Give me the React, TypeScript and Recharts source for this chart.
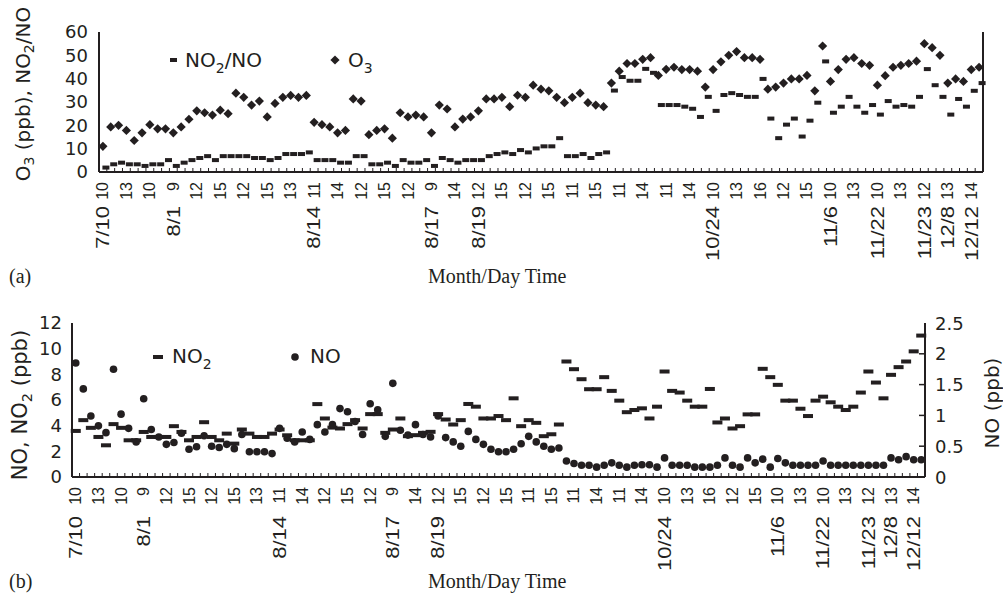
import React from 'react';
import { ComposedChart, Line, XAxis, YAxis, Legend, Label } from 'recharts';

const INK = '#231f20';
const SANS = '"DejaVu Sans", Arial, sans-serif';
const TICK_FONT = '"Liberation Sans", Arial, sans-serif';
const SERIF = '"Liberation Serif", "Times New Roman", serif';

// x labels: one every third sample (hour), with the date under the first hour of a day
const timeLabels = ['10', '13', '10', '9', '12', '15', '12', '15', '13', '11', '14', '12', '15', '12', '9', '14', '12', '15', '12',
  '15', '11', '15', '11', '14', '11', '14', '10', '13', '16', '12', '15', '10', '13', '10', '13', '12', '13', '14'];
const dateLabels = ['7/10', '', '', '8/1', '', '', '', '', '', '8/14', '', '', '', '', '8/17', '', '8/19', '', '',
  '', '', '', '', '', '', '', '10/24', '', '', '', '', '11/6', '', '11/22', '', '11/23', '12/8', '12/12'];

// panel (a)
const o3 = [11, 19.3, 20, 17.8, 13.5, 16.8, 20.3, 18.5, 18.5, 16.8,
  19.3, 22.6, 26.2, 25.4, 24.4, 26.5, 25, 33.8, 32, 28.7,
  30.4, 23.6, 29.4, 32, 32.8, 32, 32.8, 21.3, 20.3, 19.3,
  16.8, 17.8, 31.3, 30.4, 16, 17.8, 18.5, 14.5, 25.4, 23.6,
  24.4, 23.6, 16.8, 28.7, 27, 19.3, 22.7, 23.6, 26.2, 31.3,
  31.3, 32, 28, 32.9, 32, 37.2, 35.5, 34.8, 32, 29.7,
  32, 33.8, 29.7, 28.7, 28, 38.1, 43.2, 46.5, 46.5, 48.3,
  49, 41.4, 44, 44.9, 43.9, 43.9, 43.2, 36.4, 43.9, 47.2,
  50, 51.6, 49, 49, 48.3, 35.5, 36.4, 38.1, 39.9, 39.9,
  41.4, 34.8, 54, 38.8, 43.9, 48.3, 49, 46.5, 45.7, 37.2,
  41.3, 44.9, 45.7, 46.5, 47.5, 55, 53.3, 50, 38.1, 39.9,
  38.8, 43.9, 44.9];
const no2PerNo = [1.9, 3.3, 4, 3.3, 3.3, 2.6, 3.3, 3.3, 5.1, 2.6,
  4, 5.1, 6, 6.8, 5.1, 6.8, 6.8, 6.8, 6.8, 6,
  6, 5.1, 6, 7.7, 7.7, 7.7, 8.4, 5.1, 5.1, 5.1,
  4, 4, 6.8, 6.8, 3.3, 3.3, 4, 2.6, 5.1, 4,
  4, 5.1, 2.6, 6, 5.1, 4, 5.1, 5.1, 5.1, 6.8,
  7.7, 8.4, 7.7, 9.4, 8.4, 10.1, 11, 11, 14.5, 6.8,
  6.8, 7.7, 6, 7.7, 8.4, 34.9, 40.7, 39.1, 39.1, 44.2,
  42.5, 28.7, 28.7, 28.7, 28, 27.1, 23.6, 32.2, 26.2, 33,
  33.8, 33, 32.2, 32.2, 39.9, 22.9, 14.5, 20.3, 22.9, 15.2,
  22, 29.7, 47.4, 25.4, 28, 32.2, 28, 25.4, 28.7, 24.6,
  30.4, 28, 28.7, 28, 32.2, 44.1, 37.2, 32.2, 24.6, 31.3,
  28, 34.8, 38.1];

// panel (b)
const no2 = [3.59, 4.43, 3.83, 3.12, 2.47, 4.12, 3.83, 2.86, 2.86, 3.51,
  3.12, 3.12, 3.12, 3.96, 3.51, 2.86, 3.12, 4.27, 3.12, 2.86,
  3.38, 2.6, 3.7, 3.38, 3.12, 3.12, 3.38, 3.7, 3.25, 2.86,
  2.86, 2.86, 5.68, 4.56, 3.85, 3.78, 4.12, 4.43, 3.78, 4.9,
  4.9, 3.44, 3.7, 4.56, 3.18, 3.26, 3.44, 3.52, 4.9, 4.48,
  4.09, 4.43, 5.69, 5.48, 4.56, 4.56, 4.75, 4.43, 6.13, 3.96,
  4.43, 4.22, 3.18, 3.33, 4.09, 9.0, 8.4, 7.62, 6.84, 6.84,
  7.78, 6.71, 5.95, 5.05, 5.22, 5.35, 4.56, 5.48, 8.22, 6.71,
  6.58, 5.95, 5.48, 5.48, 6.86, 4.25, 4.56, 3.78, 3.96, 4.88,
  4.88, 8.43, 7.78, 7.18, 5.95, 5.95, 5.32, 4.75, 5.95, 6.26,
  5.82, 5.48, 5.22, 5.48, 6.58, 8.22, 7.36, 6.13, 7.96, 8.56,
  9.0, 9.79, 11.02];
const no = [1.85, 1.43, 0.99, 0.83, 0.72, 1.75, 1.02, 0.79, 0.57, 1.27,
  0.77, 0.65, 0.53, 0.56, 0.71, 0.45, 0.49, 0.67, 0.5, 0.48,
  0.53, 0.46, 0.69, 0.41, 0.41, 0.41, 0.38, 0.79, 0.63, 0.57,
  0.73, 0.61, 0.85, 0.73, 0.85, 1.11, 1.06, 0.9, 0.69, 1.19,
  1.09, 0.66, 1.52, 0.76, 0.68, 0.85, 0.69, 0.65, 0.99, 0.64,
  0.57, 0.5, 0.74, 0.61, 0.53, 0.45, 0.41, 0.41, 0.45, 0.54,
  0.66, 0.57, 0.5, 0.45, 0.47, 0.26, 0.22, 0.19, 0.19, 0.16,
  0.19, 0.23, 0.19, 0.16, 0.19, 0.2, 0.2, 0.16, 0.31, 0.19,
  0.19, 0.19, 0.16, 0.16, 0.16, 0.19, 0.31, 0.19, 0.16, 0.31,
  0.23, 0.29, 0.16, 0.3, 0.23, 0.19, 0.19, 0.19, 0.19, 0.26,
  0.19, 0.19, 0.19, 0.19, 0.19, 0.19, 0.19, 0.19, 0.31, 0.28,
  0.33, 0.28, 0.28];

const N = o3.length;
const dataA = o3.map((v, i) => ({ k: i, o3: v, ratio: no2PerNo[i] }));
const dataB = no2.map((v, i) => ({ k: i, no2: v, no: no[i] }));

const W = 1003;
const A = { h: 290, top: 32, left: 99, right: 20, xh: 118, dateGap: 34 };
const B = { h: 305, top: 33, left: 72, right: 78, xh: 118, dateGap: 39 };
const stepA = (W - A.left - A.right) / N;
const stepB = (W - B.left - B.right) / N;

const line = { stroke: INK, strokeWidth: 2 };

function makeTick(step: number, dateGap: number) {
  return (props: any) => {
    const { x, y, payload } = props;
    const i = Number(payload.value);
    const parts: React.ReactNode[] = [
      <line key="m" x1={x - step / 2} x2={x - step / 2} y1={y} y2={y - 4} stroke={INK} strokeWidth={1} />,
    ];
    if (i === N - 1) {
      parts.push(<line key="e" x1={x + step / 2} x2={x + step / 2} y1={y} y2={y - 4} stroke={INK} strokeWidth={1} />);
    }
    if (i % 3 === 0) {
      const j = i / 3;
      parts.push(
        <text key="t" transform={`translate(${x},${y + 10}) rotate(-90)`} textAnchor="end" dominantBaseline="central"
          fontFamily={TICK_FONT} fontSize={16} fill={INK}>{timeLabels[j]}</text>
      );
      if (dateLabels[j]) {
        parts.push(
          <text key="d" transform={`translate(${x},${y + dateGap}) rotate(-90) scale(1.22,1)`} textAnchor="end"
            dominantBaseline="central" fontFamily={TICK_FONT} fontSize={18} fill={INK}>{dateLabels[j]}</text>
        );
      }
    }
    return <g>{parts}</g>;
  };
}

const rightTick = (p: any) => {
  const v = p.payload.value;
  return (
    <g>
      {v > 0 && v < 2.5 && <line x1={p.x - 10} x2={p.x - 16} y1={p.y} y2={p.y} stroke={INK} strokeWidth={1.5} />}
      <text x={p.x} y={p.y} dominantBaseline="central" fontFamily={SANS} fontSize={18} fill={INK}>{v}</text>
    </g>
  );
};

const dashDot = (w: number, h: number, dx = 0) => (p: any) => (
  <rect key={`r${p.index}`} x={p.cx - w / 2 + dx} y={p.cy - h / 2} width={w} height={h} fill={INK} />
);
const diamondDot = (p: any) => (
  <path key={`d${p.index}`} d={`M${p.cx},${p.cy - 4.6}L${p.cx + 4.6},${p.cy}L${p.cx},${p.cy + 4.6}L${p.cx - 4.6},${p.cy}Z`} fill={INK} />
);
const circleDot = (p: any) => <circle key={`c${p.index}`} cx={p.cx} cy={p.cy} r={3.8} fill={INK} />;

// rotated title with subscripts: segments alternate normal / subscript
const VTitle = ({ x, y, size, segs }: { x: number; y: number; size: number; segs: [string, boolean][] }) => {
  const shift = size * 0.3;
  let down = false;
  return (
    <text transform={`translate(${x},${y}) rotate(-90)`} textAnchor="middle" dominantBaseline="central"
      fontFamily={SANS} fontSize={size} fill={INK}>
      {segs.map(([s, sub], i) => {
        const dy = sub && !down ? shift : !sub && down ? -shift : 0;
        down = sub;
        return <tspan key={i} dy={dy} fontSize={sub ? size * 0.7 : size}>{s}</tspan>;
      })}
    </text>
  );
};

const Sub = ({ base, sub, rest, size }: { base: string; sub: string; rest?: string; size: number }) => (
  <>
    <tspan>{base}</tspan>
    <tspan dy={size * 0.3} fontSize={size * 0.7}>{sub}</tspan>
    {rest ? <tspan dy={-size * 0.3}>{rest}</tspan> : null}
  </>
);

const legendA = () => (
  <svg width={230} height={32}>
    <rect x={10} y={14} width={7} height={4} fill={INK} />
    <text x={25} y={23} fontFamily={SANS} fontSize={20} fill={INK}><Sub base="NO" sub="2" rest="/NO" size={20} /></text>
    <path d="M175,11.4L179.6,16L175,20.6L170.4,16Z" fill={INK} />
    <text x={188} y={23} fontFamily={SANS} fontSize={20} fill={INK}><Sub base="O" sub="3" size={20} /></text>
  </svg>
);

const legendB = () => (
  <svg width={230} height={32}>
    <rect x={13} y={15} width={10} height={4} fill={INK} />
    <text x={32} y={23} fontFamily={SANS} fontSize={20} fill={INK}><Sub base="NO" sub="2" size={20} /></text>
    <circle cx={155} cy={17} r={3.8} fill={INK} />
    <text x={170} y={23} fontFamily={SANS} fontSize={20} fill={INK}>NO</text>
  </svg>
);

const bottomText = (tag: string, baseline: number) => () => (
  <g fontFamily={SERIF} fontSize={20} fill={INK}>
    <text x={9} y={baseline}>{tag}</text>
    <text x={428} y={baseline}>Month/Day Time</text>
  </g>
);

export default function App() {
  return (
    <div style={{ position: 'absolute', left: 0, top: 0, width: W, height: 595, background: '#fff' }}>
      <div style={{ position: 'absolute', left: 0, top: 0 }}>
        <ComposedChart width={W} height={A.h} data={dataA} margin={{ top: A.top, right: 0, left: 0, bottom: 0 }}>
          <XAxis dataKey="k" type="category" scale="band" interval={0} height={A.xh} axisLine={line}
            tickLine={false} tickSize={0} tickMargin={0} tick={makeTick(stepA, A.dateGap)}>
            <Label content={bottomText('(a)', 283)} />
          </XAxis>
          <XAxis xAxisId="top" dataKey="k" type="category" scale="band" orientation="top" height={0}
            axisLine={line} tick={false} tickLine={false} />
          <YAxis domain={[0, 60]} ticks={[0, 10, 20, 30, 40, 50, 60]} width={A.left} axisLine={line}
            tickLine={false} tickSize={0} tickMargin={11} interval={0}
            tick={{ fill: INK, fontSize: 18, fontFamily: SANS }}>
            <Label content={() => (
              <VTitle x={23} y={94} size={20}
                segs={[['O', false], ['3', true], [' (ppb), NO', false], ['2', true], ['/NO', false]]} />
            )} />
          </YAxis>
          <YAxis yAxisId="r" orientation="right" width={A.right} axisLine={line} tick={false} tickLine={false} />
          <Legend layout="vertical" align="center" verticalAlign="middle" content={legendA}
            wrapperStyle={{ left: 160, top: 44, width: 230, height: 32 }} />
          <Line dataKey="ratio" stroke="none" dot={dashDot(7, 4, 3)} activeDot={false} isAnimationActive={false} legendType="none" />
          <Line dataKey="o3" stroke="none" dot={diamondDot} activeDot={false} isAnimationActive={false} legendType="none" />
        </ComposedChart>
      </div>
      <div style={{ position: 'absolute', left: 0, top: A.h }}>
        <ComposedChart width={W} height={B.h} data={dataB} margin={{ top: B.top, right: 0, left: 0, bottom: 0 }}>
          <XAxis dataKey="k" type="category" scale="band" interval={0} height={B.xh} axisLine={line}
            tickLine={false} tickSize={0} tickMargin={0} tick={makeTick(stepB, B.dateGap)}>
            <Label content={bottomText('(b)', 298)} />
          </XAxis>
          <XAxis xAxisId="top" dataKey="k" type="category" scale="band" orientation="top" height={0}
            axisLine={line} tick={false} tickLine={false} />
          <YAxis yAxisId="left" domain={[0, 12]} ticks={[0, 2, 4, 6, 8, 10, 12]} width={B.left} axisLine={line}
            tickLine={false} tickSize={0} tickMargin={10} interval={0}
            tick={{ fill: INK, fontSize: 18, fontFamily: SANS }}>
            <Label content={() => (
              <VTitle x={20} y={115} size={21}
                segs={[['NO, NO', false], ['2', true], [' (ppb)', false]]} />
            )} />
          </YAxis>
          <YAxis yAxisId="right" orientation="right" domain={[0, 2.5]} ticks={[0, 0.5, 1, 1.5, 2, 2.5]}
            width={B.right} axisLine={line} tickLine={false} tickSize={0} tickMargin={10} interval={0} tick={rightTick}>
            <Label content={() => <VTitle x={992} y={113} size={20} segs={[['NO (ppb)', false]]} />} />
          </YAxis>
          <Legend layout="vertical" align="center" verticalAlign="middle" content={legendB}
            wrapperStyle={{ left: 140, top: 50, width: 230, height: 32 }} />
          <Line yAxisId="left" dataKey="no2" stroke="none" dot={dashDot(10, 4)} activeDot={false} isAnimationActive={false} legendType="none" />
          <Line yAxisId="right" dataKey="no" stroke="none" dot={circleDot} activeDot={false} isAnimationActive={false} legendType="none" />
        </ComposedChart>
      </div>
    </div>
  );
}
